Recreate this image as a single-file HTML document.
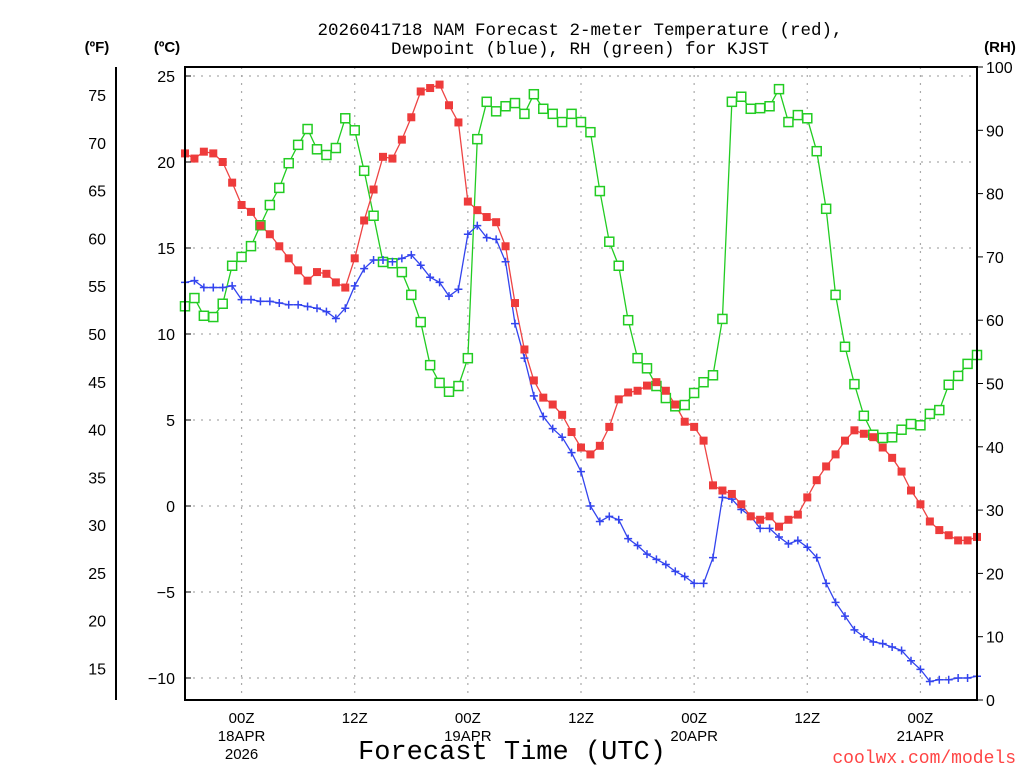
<!DOCTYPE html>
<html><head><meta charset="utf-8"><style>
body{margin:0;background:#fff;}
svg{display:block;font-family:"Liberation Sans","DejaVu Sans",sans-serif;}
.mono{font-family:"Liberation Mono","DejaVu Sans Mono",monospace;}
</style></head><body>
<svg id="chart" width="1024" height="768" viewBox="0 0 1024 768" xmlns="http://www.w3.org/2000/svg">
<g id="grid"></g>
<g id="series"></g>
<g id="axes"></g>
<text class="mono" x="580" y="35" text-anchor="middle" font-size="17.5">2026041718 NAM Forecast 2-meter Temperature (red),</text>
<text class="mono" x="580" y="54" text-anchor="middle" font-size="17.5">Dewpoint (blue), RH (green) for KJST</text>
<text x="97" y="52" text-anchor="middle" font-size="15" font-weight="bold">(ºF)</text>
<text x="167" y="52" text-anchor="middle" font-size="15" font-weight="bold">(ºC)</text>
<text x="1000" y="52" text-anchor="middle" font-size="15" font-weight="bold">(RH)</text>
<text class="mono" x="512" y="759" text-anchor="middle" font-size="27">Forecast Time (UTC)</text>
<text class="mono" x="1016" y="763" text-anchor="end" font-size="18" fill="#ff4444">coolwx.com/models</text>
</svg>
<script>
const tempC=[20.5,20.2,20.6,20.5,20.0,18.8,17.5,17.1,16.3,15.8,15.1,14.4,13.7,13.1,13.6,13.5,13.0,12.7,14.4,16.6,18.4,20.3,20.2,21.3,22.6,24.1,24.3,24.5,23.3,22.3,17.7,17.2,16.8,16.5,15.1,11.8,9.1,7.3,6.3,5.9,5.3,4.3,3.4,3.0,3.5,4.6,6.2,6.6,6.7,7.0,7.2,6.7,5.9,4.9,4.6,3.8,1.2,0.9,0.7,0.1,-0.6,-0.8,-0.6,-1.2,-0.8,-0.5,0.5,1.5,2.3,3.0,3.8,4.4,4.2,4.0,3.4,2.8,2.0,0.9,0.1,-0.9,-1.4,-1.7,-2.0,-2.0,-1.8];
const dewC=[13.0,13.1,12.7,12.7,12.7,12.8,12.0,12.0,11.9,11.9,11.8,11.7,11.7,11.6,11.5,11.3,10.9,11.5,12.8,13.8,14.3,14.3,14.2,14.4,14.6,14.0,13.3,13.0,12.2,12.6,15.8,16.3,15.6,15.5,14.2,10.6,8.6,6.4,5.2,4.5,4.0,3.1,2.0,0.0,-0.9,-0.6,-0.8,-1.9,-2.3,-2.8,-3.1,-3.4,-3.8,-4.1,-4.5,-4.5,-3.0,0.5,0.4,-0.2,-0.6,-1.3,-1.3,-1.8,-2.2,-2.0,-2.4,-3.0,-4.5,-5.6,-6.4,-7.2,-7.6,-7.9,-8.0,-8.2,-8.4,-9.0,-9.5,-10.2,-10.1,-10.1,-10.0,-10.0,-9.9];
const rh=[62.2,63.5,60.7,60.5,62.6,68.6,70.0,71.7,75.0,78.2,80.9,84.8,87.7,90.2,87.0,86.1,87.2,91.9,90.0,83.6,76.5,69.2,69.0,67.6,64.0,59.7,52.9,50.1,48.7,49.6,54.0,88.6,94.5,93.0,93.8,94.3,92.6,95.7,93.4,92.6,91.3,92.6,91.3,89.7,80.4,72.4,68.6,60.0,54.0,52.4,49.6,47.7,46.4,46.6,48.5,50.2,51.3,60.2,94.5,95.3,93.4,93.5,93.8,96.5,91.3,92.4,91.9,86.7,77.6,64.0,55.8,49.9,44.9,41.9,41.4,41.5,42.7,43.6,43.4,45.2,45.8,49.8,51.2,53.1,54.5];
const cTicks=[25,20,15,10,5,0,-5,-10];
const fTicks=[75,70,65,60,55,50,45,40,35,30,25,20,15];
const rhTicks=[100,90,80,70,60,50,40,30,20,10,0];
const timeTickHours=[6,18,30,42,54,66,78];
const timeTickLabels=["00Z\n18APR\n2026","12Z","00Z\n19APR","12Z","00Z\n20APR","12Z","00Z\n21APR"];

const NS="http://www.w3.org/2000/svg";
const L=185,R=977,T=67,B=700;
const xH=h=>L+h*(R-L)/84;
const yC=c=>506-c*17.2;
const yF=f=>yC((f-32)*5/9);
const yRH=v=>B-v*(B-T)/100;
function mk(tag,attrs,parent){const e=document.createElementNS(NS,tag);for(const k in attrs)e.setAttribute(k,attrs[k]);parent.appendChild(e);return e;}
const grid=document.getElementById('grid'),ser=document.getElementById('series'),ax=document.getElementById('axes');

cTicks.forEach(c=>{
  const g=mk('line',{x1:L,x2:R,y1:yC(c),y2:yC(c),stroke:'#aaa','stroke-width':1.2,'stroke-dasharray':'2,6'},grid);
  
  
  const t=mk('text',{x:175,y:yC(c)+6,'text-anchor':'end','font-size':16},ax);
  t.textContent=String(c).replace('-','−');
  
  
  const tk=mk('line',{x1:L,x2:L+6,y1:yC(c),y2:yC(c),stroke:'#000','stroke-width':1},ax);
  
  
});
timeTickHours.forEach((h,i)=>{
  const g=mk('line',{x1:xH(h),x2:xH(h),y1:T,y2:B,stroke:'#aaa','stroke-width':1.2,'stroke-dasharray':'2,6'},grid);
  
  
  const t=mk('text',{x:xH(h),y:723,'text-anchor':'middle','font-size':15},ax);
  
  
  timeTickLabels[i].split('\n').forEach((s,j)=>{const ts=mk('tspan',{x:xH(h),dy:j?18:0},t);ts.textContent=s;});
});
fTicks.forEach(f=>{
  const t=mk('text',{x:106,y:yF(f)+6,'text-anchor':'end','font-size':16},ax);
  t.textContent=f;
  
  
});
rhTicks.forEach(v=>{
  const t=mk('text',{x:986,y:yRH(v)+6,'text-anchor':'start','font-size':16},ax);
  t.textContent=v;
  
  
  const tk=mk('line',{x1:R,x2:R+6,y1:yRH(v),y2:yRH(v),stroke:'#000','stroke-width':1},ax);
  
  
});
const fa=mk('line',{x1:116,x2:116,y1:T,y2:B,stroke:'#000','stroke-width':2},ax);


const frame=mk('rect',{x:L,y:T,width:R-L,height:B-T,fill:'none',stroke:'#000','stroke-width':2},ax);



function line(arr,yf,color,name){
  const p=mk('polyline',{points:arr.map((v,i)=>xH(i)+','+yf(v)).join(' '),fill:'none',stroke:color,'stroke-width':1.3},ser);
  
  
}
line(rh,yRH,'#22cc22','rh');
line(dewC,yC,'#3344ee','dewpoint');
line(tempC,yC,'#ee4444','temperature');
rh.forEach((v,i)=>{
  const m=mk('rect',{x:xH(i)-4.5,y:yRH(v)-4.5,width:9,height:9,fill:'#fff',stroke:'#22cc22','stroke-width':1.5},ser);
  
  
});
dewC.forEach((v,i)=>{
  const m=mk('path',{d:`M${xH(i)-4},${yC(v)}h8M${xH(i)},${yC(v)-4}v8`,stroke:'#3344ee','stroke-width':1.5},ser);
  
  
});
tempC.forEach((v,i)=>{
  const m=mk('rect',{x:xH(i)-4,y:yC(v)-4,width:8,height:8,fill:'#ee3b3b'},ser);
  
  
});
</script>
</body></html>
